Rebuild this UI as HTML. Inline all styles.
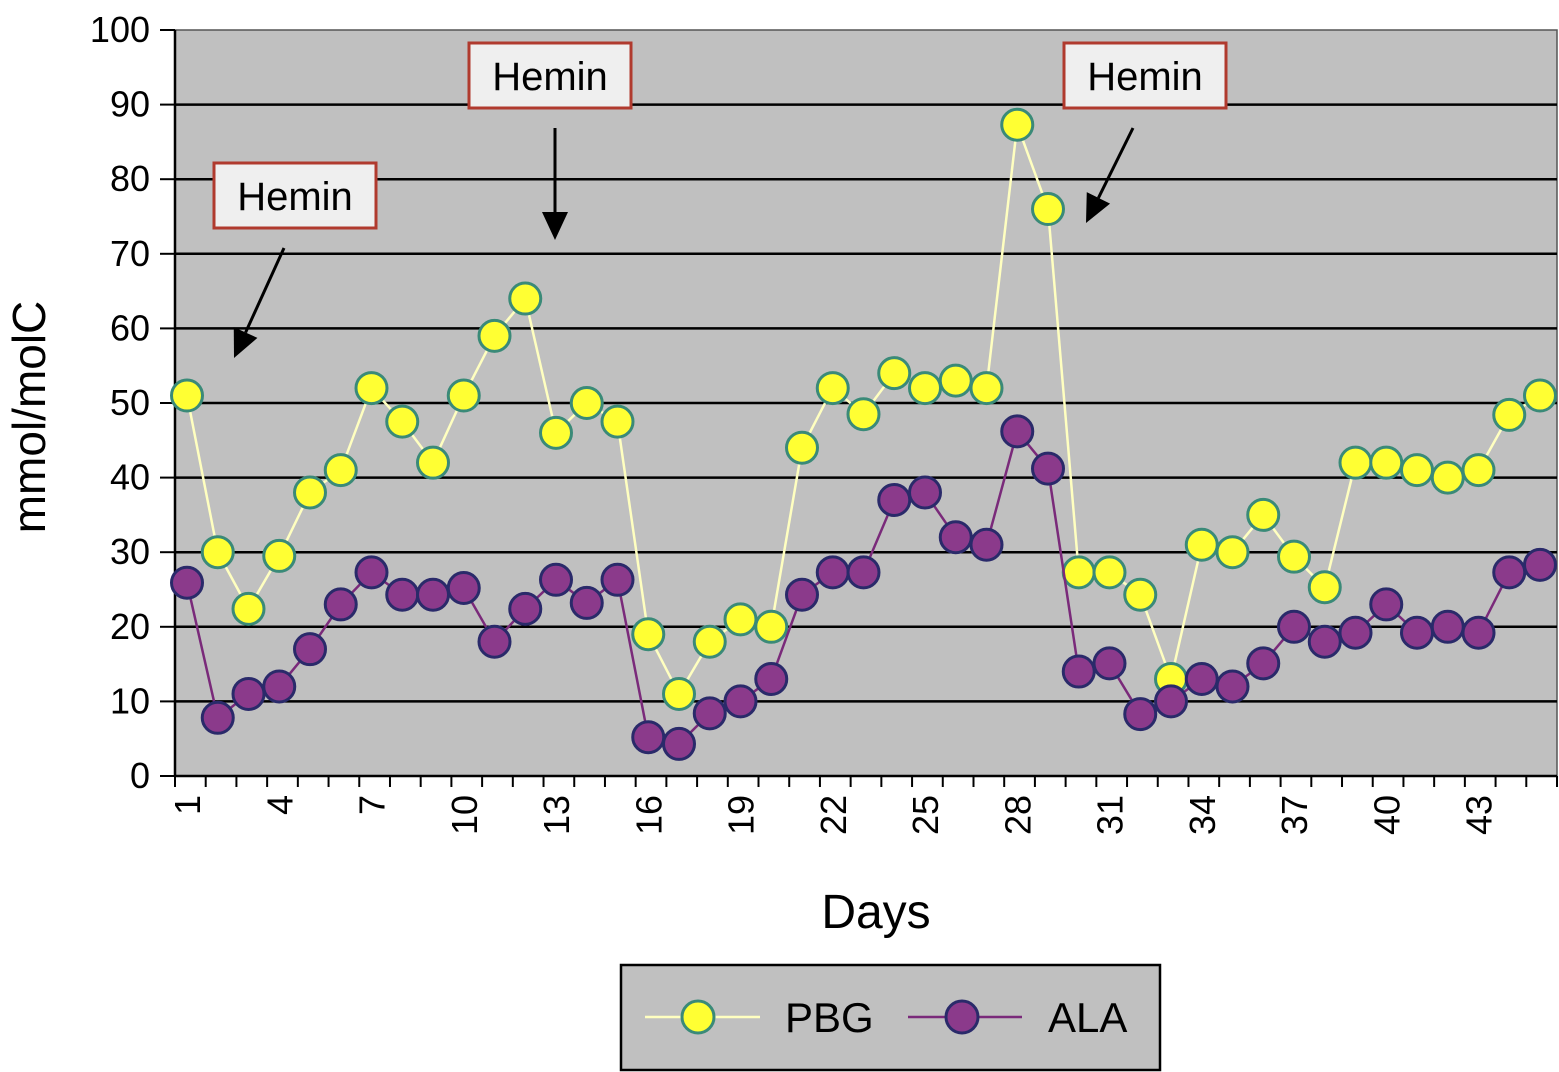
<!DOCTYPE html>
<html><head><meta charset="utf-8"><style>
body{margin:0;background:#fff;}
svg{display:block;font-family:"Liberation Sans",sans-serif;}
</style></head><body>
<svg id="chart" width="1559" height="1072"></svg>
<script>
const days = Array.from({length:45},(_,i)=>i+1);
const pbg = [51,30,22.4,29.5,38,41,52,47.5,42,51,59,64,46,50,47.5,19,11,18,21,20,44,52,48.5,54,52,53,52,87.3,76,27.3,27.3,24.3,13,31,30,35,29.4,25.3,42,42,41,40,41,48.4,51];
const ala = [25.9,7.8,11,12,17,23,27.3,24.3,24.3,25.2,18,22.4,26.3,23.2,26.3,5.2,4.3,8.4,10,13,24.3,27.3,27.3,37,38,32,31,46.2,41.2,14,15.1,8.3,10,13,12,15.1,20,18,19.2,23,19.2,20,19.2,27.3,28.3];
const yTicks = [0,10,20,30,40,50,60,70,80,90,100];
const xTickLabels = [1,4,7,10,13,16,19,22,25,28,31,34,37,40,43];

const L=175,R=1557,T=30,B=776;
const bw=(R-L)/days.length;
const xs=d=>187+(d-1)*30.75;
const ys=v=>B-(v/100)*(B-T);
const svg=document.getElementById('chart');
const NS='http://www.w3.org/2000/svg';
function mk(tag,attrs,parent){const e=document.createElementNS(NS,tag);for(const k in attrs)e.setAttribute(k,attrs[k]);(parent||svg).appendChild(e);return e;}

let bg=mk('rect',{x:L,y:T,width:R-L,height:B-T,fill:'#c0c0c0',stroke:'#555','stroke-width':1.5});



yTicks.forEach(v=>{
  const y=ys(v);
  if(v>0&&v<100){let g=mk('line',{x1:L,x2:R,y1:y,y2:y,stroke:'#000','stroke-width':2.5});
  
  }
  mk('line',{x1:L-15,x2:L,y1:y,y2:y,stroke:'#000','stroke-width':2});
  let t=mk('text',{x:L-25,y:y+12,'text-anchor':'end','font-size':36,fill:'#000'});
  t.textContent=v;
  
  
});
mk('line',{x1:L,x2:L,y1:T,y2:B,stroke:'#000','stroke-width':2.5});
mk('line',{x1:L,x2:R,y1:B,y2:B,stroke:'#000','stroke-width':2.5});
for(let i=0;i<=days.length;i++){mk('line',{x1:L+i*bw,x2:L+i*bw,y1:B,y2:B+11,stroke:'#000','stroke-width':2});}
xTickLabels.forEach(d=>{
  const x=xs(d);
  let t=mk('text',{x:0,y:0,'text-anchor':'end','font-size':36,fill:'#000',transform:`translate(${x+13},795) rotate(-90)`});
  t.textContent=d;
  
  
});

function series(vals,line,fill,stroke,name){
  let p=mk('polyline',{points:vals.map((v,i)=>xs(days[i])+','+ys(v)).join(' '),fill:'none',stroke:line,'stroke-width':2.5});
  
  
  vals.forEach((v,i)=>{
    let c=mk('circle',{cx:xs(days[i]),cy:ys(v),r:15.5,fill:fill,stroke:stroke,'stroke-width':3});
    
    
  });
}
series(pbg,'#ffffc0','#ffff33','#3a8a78','pbg');
series(ala,'#7a2a7a','#8b3a8b','#2a2a6a','ala');

const boxes=[[214,163],[469,43],[1064,43]];
boxes.forEach(([x,y])=>{
  let r=mk('rect',{x:x,y:y,width:162,height:65,fill:'#efefef',stroke:'#b03a2e','stroke-width':3});
  
  
  let t=mk('text',{x:x+81,y:y+47,'text-anchor':'middle','font-size':40,fill:'#000'});
  t.textContent='Hemin';
  
  
});
const arrows=[[284,248,234,358],[555,128,555,240],[1133,128,1086,223]];
arrows.forEach(([a,b,c,d])=>{
  const ang=Math.atan2(d-b,c-a),len=28;
  const bx=c-len*Math.cos(ang),by=d-len*Math.sin(ang);
  let l=mk('line',{x1:a,y1:b,x2:bx,y2:by,stroke:'#000','stroke-width':3});
  
  
  const px=-Math.sin(ang)*13,py=Math.cos(ang)*13;
  mk('polygon',{points:`${c},${d} ${bx+px},${by+py} ${bx-px},${by-py}`,fill:'#000'});
});

let yl=mk('text',{x:0,y:0,'text-anchor':'middle','font-size':46,fill:'#000',transform:'translate(45,417) rotate(-90)'});
yl.textContent='mmol/molC';


let xl=mk('text',{x:876,y:928,'text-anchor':'middle','font-size':48,fill:'#000'});
xl.textContent='Days';



let lg=mk('rect',{x:621,y:965,width:539,height:105,fill:'#c0c0c0',stroke:'#000','stroke-width':2.5});


[[645,760,698,785,'PBG','#ffffc0','#ffff33','#3a8a78'],[908,1022,962,1048,'ALA','#7a2a7a','#8b3a8b','#2a2a6a']].forEach(([a,b,m,tx,n,lc,f,s])=>{
  mk('line',{x1:a,x2:b,y1:1017,y2:1017,stroke:lc,'stroke-width':2.5});
  mk('circle',{cx:m,cy:1017,r:16,fill:f,stroke:s,'stroke-width':3});
  let t=mk('text',{x:tx,y:1032,'font-size':42,fill:'#000'});
  t.textContent=n;
  
  
});
</script>
</body></html>
